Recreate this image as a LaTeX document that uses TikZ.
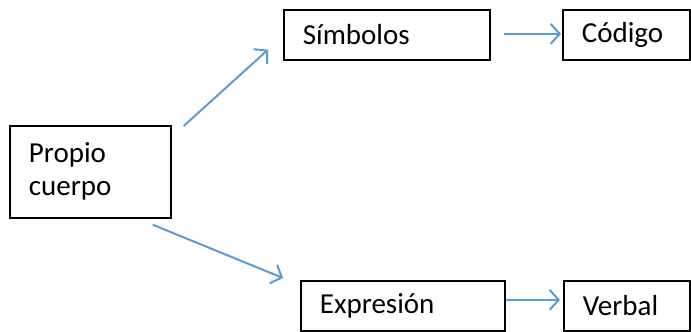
\documentclass[tikz,border=0pt]{standalone}
\usepackage{fontspec}
\setmainfont{Carlito}
\usetikzlibrary{arrows.meta,calc}
\definecolor{linkblue}{RGB}{91,155,213}
\tikzstyle{box}=[draw, line width=1.7pt, inner xsep=19pt, inner ysep=0pt, align=left,
                 anchor=north west, font=\fontsize{29}{33}\selectfont]
\tikzstyle{link}=[draw=linkblue, line width=2pt, -{Straight Barb[length=9pt, width=20pt]}]
\begin{document}
\begin{tikzpicture}[x=1pt, y=-1pt]
    \useasboundingbox (0, 0) rectangle (691, 332);
    \node[box, text width=123pt, minimum height=92pt] (propio)    at (9, 125)   {Propio\\cuerpo};
    \node[box, text width=168pt, minimum height=50pt] (simbolos)  at (283, 9)   {Símbolos};
    \node[box, text width=89pt, minimum height=50pt]  (codigo)    at (562, 9)   {Código};
    \node[box, text width=166pt, minimum height=50pt] (expresion) at (300, 280) {Expresión};
    \node[box, text width=88pt, minimum height=50pt]  (verbal)    at (563, 280) {Verbal};
    \draw[link] ($(propio.north east) + (12, 1)$) -- ($(simbolos.south west) + (-15, -11)$);
    \draw[link] ($(propio.south east) + (-19, 6)$) -- ($(expresion.north west) + (-17, -2)$);
    \draw[link] ($(simbolos.east) + (13, -1)$) -- ($(codigo.west) + (-1, -1)$);
    \draw[link] ($(expresion.east) + (0, -6)$) -- ($(verbal.west) + (-3, -6)$);
\end{tikzpicture}
\end{document}
